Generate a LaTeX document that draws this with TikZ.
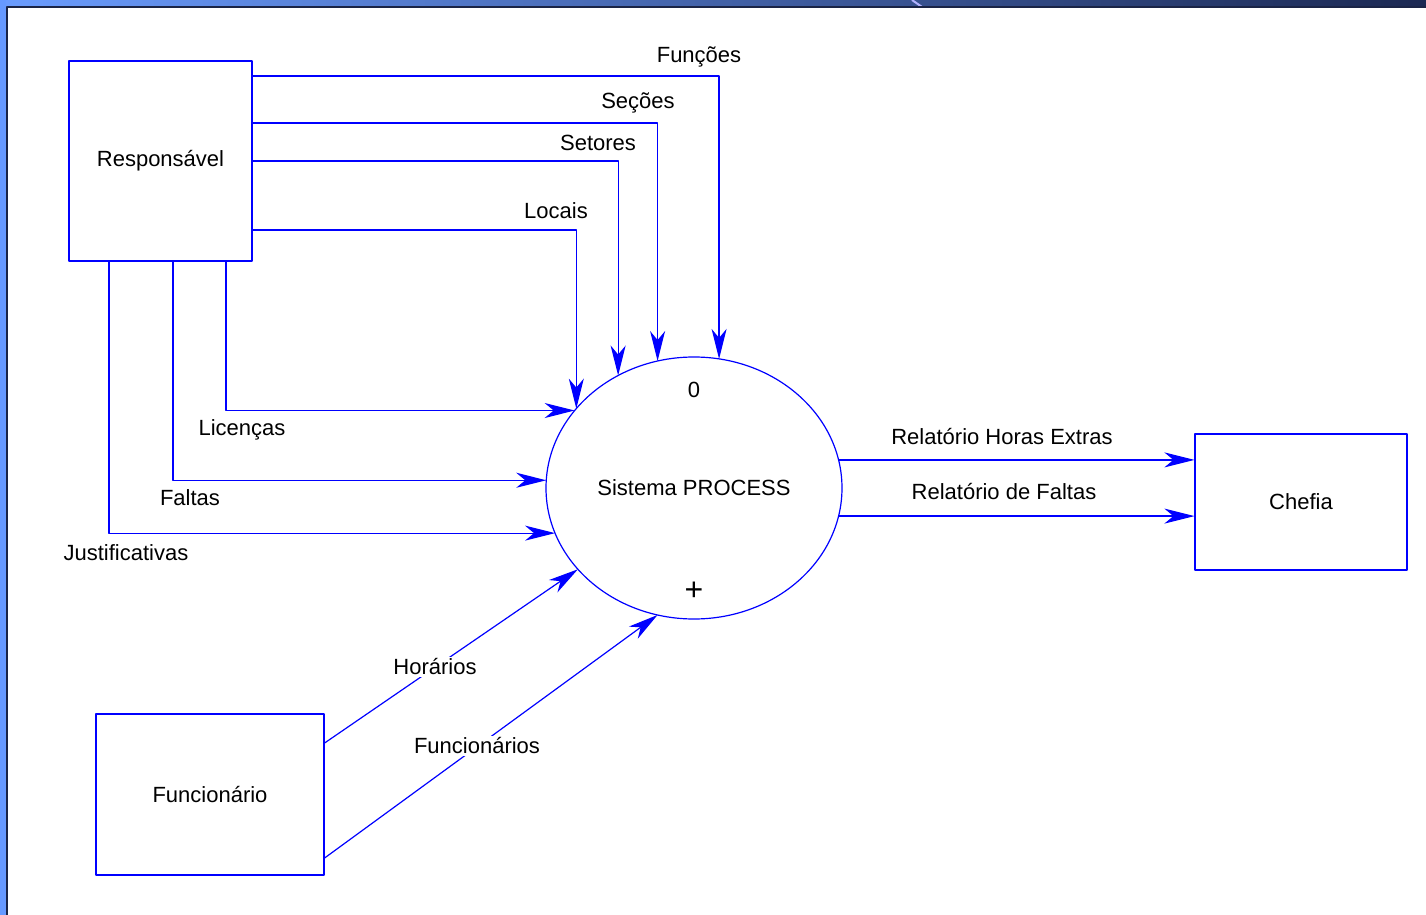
\documentclass[tikz,border=0pt]{standalone}
\usepackage{fontspec}
\setmainfont{Liberation Sans}
\usetikzlibrary{arrows.meta,shapes.geometric}
\definecolor{barlight}{RGB}{106,156,255}
\definecolor{bardark}{RGB}{27,40,82}
\definecolor{sidebar}{RGB}{102,153,255}
\definecolor{edgedark}{RGB}{26,36,70}
\tikzset{
  entity/.style={draw=blue, line width=.6pt, fill=white, inner sep=0pt},
  process/.style={ellipse, draw=blue, line width=.6pt, inner sep=0pt, outer sep=0pt,
    minimum width=148pt, minimum height=131pt},
  flow/.style={blue, line width=.6pt, -{Stealth[length=15pt,width=7.5pt,inset=4.5pt]}},
  lbl/.style={inner sep=1pt},
}
\begin{document}
\begin{tikzpicture}[x=.5pt, y=-.5pt, font=\fontsize{11}{13}\selectfont, line join=round]
  \useasboundingbox (0,0) rectangle (1426,915);
  % frame
  \fill[left color=barlight, right color=bardark] (0,0) rectangle (1426,7);
  \draw[white!70!blue, line width=1pt] (912,0)--(922,7);
  \fill[sidebar] (0,0) rectangle (6,915);
  \draw[edgedark, line width=1pt] (7,915)--(7,7.5)--(1426,7.5);

  % entities and process
  \node[entity, minimum width=91.5pt, minimum height=100pt] (resp) at (160.5,161) {Responsável};
  \node[entity, minimum width=106pt, minimum height=68pt] (chefia) at (1301,502) {Chefia};
  \node[entity, minimum width=114pt, minimum height=80.5pt] (func) at (210,794.5) {Funcionário};
  \node[process] (proc) at (694,488) {Sistema PROCESS};
  \node (procnum) at (694,390) {0};
  \node[font=\fontsize{16}{16}\selectfont] (procplus) at (694,591) {+};

  % flows from Responsavel (top)
  \foreach \y/\a in {76/79.5, 123/106.2, 161/124.1, 230/146.2}
    \draw[flow] (resp.east |- 0,\y) -| (proc.\a);
  \node[lbl] (lfuncoes) at (699,57) {Funções};
  \node[lbl] (lsecoes) at (638,103) {Seções};
  \node[lbl] (lsetores) at (598,143) {Setores};
  \node[lbl] (llocais) at (556,211) {Locais};

  % flows from Responsavel (bottom)
  \foreach \x/\a in {226/147.0, 173/177.7, 109/198.4}
    \draw[flow] (resp.south -| \x,0) |- (proc.\a);
  \node[lbl] (llicencas) at (242,430) {Licenças};
  \node[lbl] (lfaltas) at (190,498) {Faltas};
  \node[lbl] (ljust) at (126,553) {Justificativas};

  % flows to Chefia
  \draw[flow] (proc.11.8) -- (proc.11.8 -| chefia.west);
  \draw[flow] (proc.-11.4) -- (proc.-11.4 -| chefia.west);
  \node[lbl] (lhoras) at (1002,437) {Relatório Horas Extras};
  \node[lbl] (lrelfaltas) at (1004,492) {Relatório de Faltas};

  % flows from Funcionario
  \draw[flow] (func.east |- 0,743) -- (proc.215.9);
  \draw[flow] (func.east |- 0,858) -- (proc.254);
  \node[lbl, fill=white] (lhorarios) at (435,667) {Horários};
  \node[lbl, fill=white] (lfuncs) at (477,746) {Funcionários};
\end{tikzpicture}
\end{document}
